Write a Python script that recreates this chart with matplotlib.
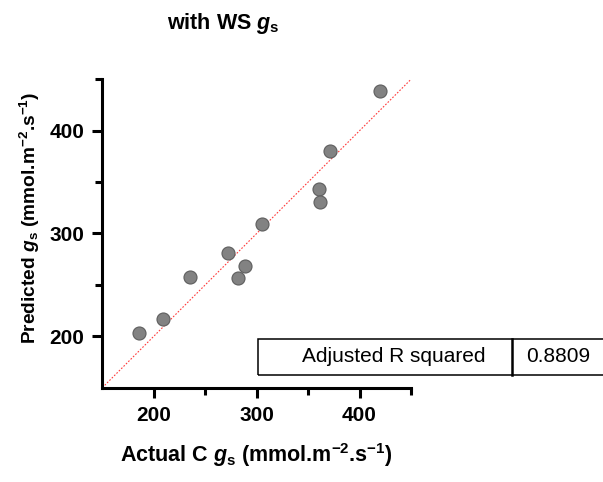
import matplotlib
matplotlib.use("Agg")
import matplotlib.pyplot as plt
from matplotlib.patches import Rectangle
from matplotlib.lines import Line2D

# Measured vs. predicted stomatal conductance
actual_gs = [186, 209, 235, 272, 282, 289, 305, 361, 362, 371, 420]
predicted_gs = [203, 217, 258, 281, 257, 268, 309, 343, 331, 380, 439]

x_ticks = [200, 300, 400]
y_ticks = [200, 300, 400]
axis_range = [150, 450]

fit_label = "Adjusted R squared"
fit_value = "0.8809"

plt.rcParams["font.family"] = ["Liberation Sans", "DejaVu Sans"]
plt.rcParams["mathtext.fontset"] = "custom"
plt.rcParams["mathtext.rm"] = "Liberation Sans:bold"
plt.rcParams["mathtext.it"] = "Liberation Sans:bold:italic"
plt.rcParams["mathtext.bf"] = "Liberation Sans:bold"

fig = plt.figure(figsize=(6.03, 4.82), dpi=100)
ax = fig.add_axes([0.1697, 0.1957, 0.5119, 0.6398])

# identity line
ax.plot(axis_range, axis_range, color="#ff3b3b", lw=0.8, ls=(0, (1.5, 1.5)),
        zorder=1, clip_on=False)
ax.scatter(actual_gs, predicted_gs, s=88, color="#828282",
           edgecolors="#5e5e5e", linewidths=0.8, zorder=3, clip_on=False)

ax.set_xlim(axis_range)
ax.set_ylim(axis_range)
ax.set_xticks(x_ticks)
ax.set_yticks(y_ticks)
ax.set_xticks([250, 350, 450], minor=True)
ax.set_yticks([250, 350, 450], minor=True)

for side in ("top", "right"):
    ax.spines[side].set_visible(False)
for side in ("left", "bottom"):
    ax.spines[side].set_linewidth(2.2)
ax.tick_params(which="major", length=7, width=2.2, labelsize=15, pad=6)
ax.tick_params(which="minor", length=5, width=2.2)
for lab in ax.get_xticklabels() + ax.get_yticklabels():
    lab.set_fontweight("bold")

fig.text(223 / 603, 1 - 24 / 482, r"with WS $g_{\mathrm{s}}$", ha="center",
         va="center", fontsize=15.5, fontweight="bold")
fig.text(256 / 603, 1 - 455 / 482,
         r"Actual C $g_{\mathrm{s}}$ (mmol.m$^{\mathrm{-2}}$.s$^{\mathrm{-1}}$)",
         ha="center", va="center", fontsize=15.5, fontweight="bold")
fig.text(30 / 603, 1 - 218 / 482,
         r"Predicted $g_{\mathrm{s}}$ (mmol.m$^{\mathrm{-2}}$.s$^{\mathrm{-1}}$)",
         ha="center", va="center", rotation=90, fontsize=13.8,
         fontweight="bold")

# fit statistics box
W, H = 603, 482
x0, x1, xdiv = 258, 610, 512
y0, y1 = 339, 375
box = Rectangle((x0 / W, 1 - y1 / H), (x1 - x0) / W, (y1 - y0) / H,
                transform=fig.transFigure, fill=False, lw=1.1,
                edgecolor="black")
fig.add_artist(box)
fig.add_artist(Line2D([xdiv / W, xdiv / W], [1 - y1 / H, 1 - y0 / H],
                      transform=fig.transFigure, color="black", lw=1.8))
fig.text(394 / W, 1 - 357 / H, fit_label, ha="center", va="center",
         fontsize=15)
fig.text(558 / W, 1 - 357 / H, fit_value, ha="center", va="center",
         fontsize=15)

fig.savefig("out.png", dpi=100)
